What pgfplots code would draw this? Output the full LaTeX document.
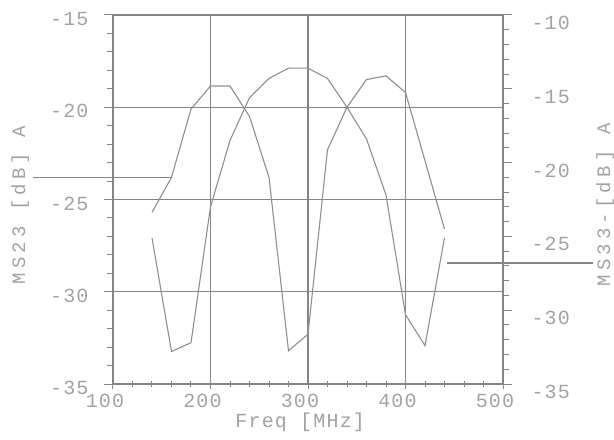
\documentclass[border=0pt]{standalone}
\usepackage{fontspec}
\usepackage{pgfplots}
\usepackage{pgfplotstable}
\pgfplotsset{compat=1.18}
\setmainfont{Liberation Mono}
\newfontfamily\labfont[LetterSpace=22]{Liberation Mono}
\newfontfamily\tickfont[LetterSpace=6]{Liberation Mono}
\definecolor{ink}{HTML}{858585}
\definecolor{txt}{HTML}{A2A2A2}
\definecolor{crv}{HTML}{8E8E8E}

% Freq [MHz], MS23 (left axis), MS33 (right axis)
\pgfplotstableread{
f   ms23   ms33
140 -25.7  -25.1
160 -23.8  -32.8
180 -20.1  -32.2
200 -18.85 -23.0
220 -18.85 -18.5
240 -20.5  -15.6
260 -23.8  -14.3
280 -33.2  -13.6
300 -32.3  -13.6
320 -22.3  -14.3
340 -20.0  -16.25
360 -18.5  -18.4
380 -18.3  -22.2
400 -19.2  -30.3
420 -22.9  -32.4
440 -26.6  -25.1
}\data

\begin{document}
\begin{tikzpicture}
\pgfplotsset{
  every axis/.append style={
    scale only axis, width=390bp, height=369bp,
    xmin=100, xmax=500,
    axis line style={ink, line width=1.3bp},
    every tick/.style={ink, line width=1bp},
    major tick length=9bp, minor tick length=6bp,
    ticklabel style={font=\tickfont\fontsize{20bp}{24bp}\selectfont, text=txt},
    label style={font=\labfont\fontsize{19bp}{23bp}\selectfont, text=txt},
    clip=false,
  }
}
\begin{axis}[
  ymin=-35, ymax=-15,
  xtick={100,200,...,500}, xticklabels={100,200,300,400,500},
  minor x tick num=4,
  ytick={-35,-30,...,-15}, yticklabels={-35,-30,-25,-20,-15},
  minor y tick num=4,
  xtick pos=bottom, ytick pos=left,
  xtick align=center, ytick align=outside,
  grid=major, major grid style={ink, line width=1.3bp},
  xticklabel style={anchor=north, xshift=-8bp, yshift=-2bp},
  yticklabel style={anchor=east, xshift=-12bp, yshift=-4bp},
  xlabel={Freq [MHz]},
  xlabel style={at={(axis description cs:0.48,-0.105)}, anchor=center,
    font=\tickfont\fontsize{20bp}{24bp}\selectfont},
  ylabel={MS23 [dB] A},
  ylabel style={at={(axis description cs:-0.238,0.485)}, anchor=center},
]
\addplot[crv, line width=1.1bp] table[x=f, y=ms23] {\data};
\draw[ink, line width=1.1bp] (axis cs:18,-23.8) -- (axis cs:161,-23.8);
\end{axis}
\begin{axis}[
  ymin=-35, ymax=-10,
  axis y line*=right, axis x line=none,
  ytick={-35,-30,...,-10}, yticklabels={-35,-30,-25,-20,-15,-10},
  minor y tick num=4,
  ytick align=outside,
  yticklabel style={anchor=west, xshift=16bp, yshift=-8bp},
  ylabel={MS33-[dB] A},
  ylabel style={at={(axis description cs:1.262,0.485)}, anchor=center},
]
\addplot[crv, line width=1.1bp] table[x=f, y=ms33] {\data};
\draw[ink, line width=1.1bp] (axis cs:443,-26.8) -- (axis cs:592,-26.8);
\end{axis}
\pgfresetboundingbox
\path (current axis.south west) ++(-113bp,-56bp) rectangle ++(614bp,440bp);
\end{tikzpicture}
\end{document}
